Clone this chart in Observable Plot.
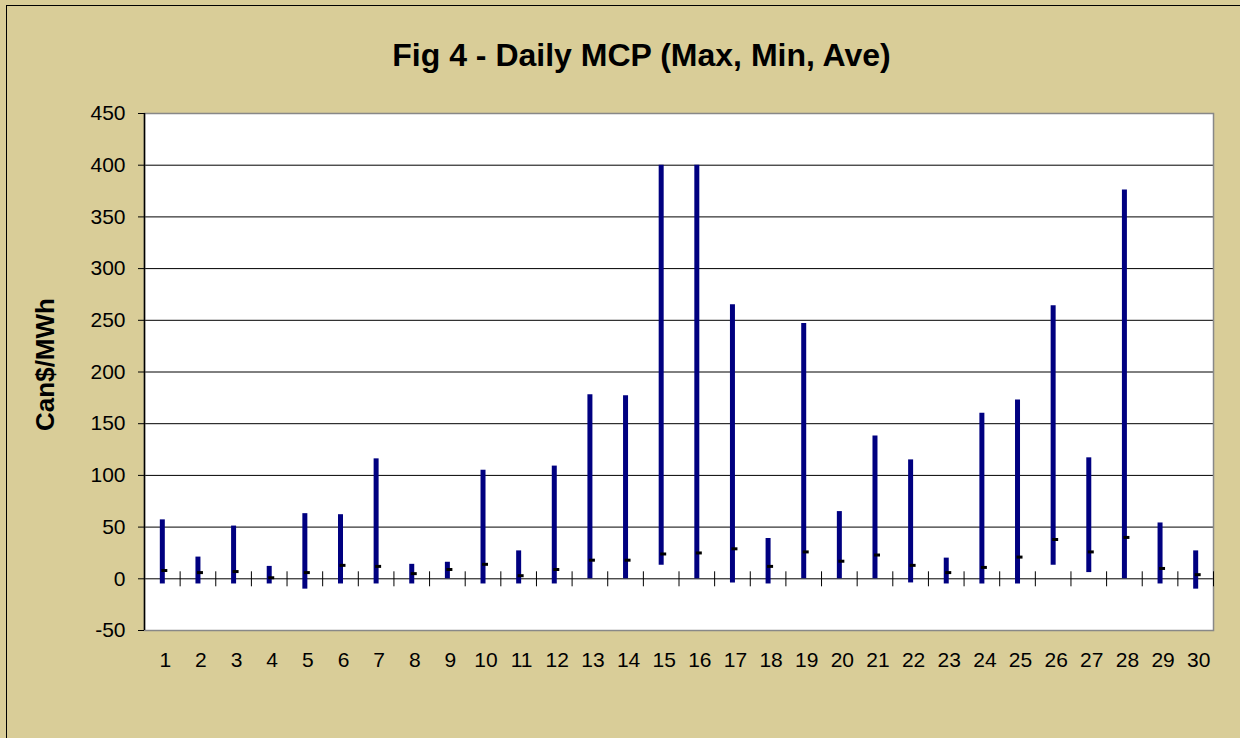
<!DOCTYPE html>
<html><head><meta charset="utf-8">
<script src="https://cdn.jsdelivr.net/npm/d3@7"></script>
<script src="https://cdn.jsdelivr.net/npm/@observablehq/plot@0.6"></script>
<style>
html,body{margin:0;padding:0;background:#D9CD98;overflow:hidden}
#wrap{position:relative;width:1240px;height:738px;background:#D9CD98;overflow:hidden}
#border{position:absolute;left:6px;top:5px;width:1300px;height:800px;border-left:1px solid #000;border-top:1px solid #000;box-sizing:border-box}
#chart{position:absolute;left:0;top:0}
</style></head><body>
<div id="wrap"><div id="border"></div><div id="chart"></div></div>
<script>
const days = d3.range(1, 31);
const maxValues = [57, 21, 51, 12, 63, 62, 116, 14, 16, 105, 27, 109, 178, 177, 400, 400, 265, 39, 247, 65, 138, 115, 20, 160, 173, 264, 117, 376, 54, 27];
const minValues = [-5, -5, -5, -5, -10, -5, -5, -5, 0, -5, -5, -5, 0, 0, 13, 0, -4, -5, 0, 0, 0, -4, -5, -5, -5, 13, 6, 0, -5, -10];
const aveValues = [8, 6, 7, 1, 6, 13, 12, 5, 9, 14, 3, 9, 18, 18, 24, 25, 29, 12, 26, 17, 23, 13, 6, 11, 21, 38, 26, 40, 10, 4];
const yTicks = [-50, 0, 50, 100, 150, 200, 250, 300, 350, 400, 450];
const gridValues = [0, 50, 100, 150, 200, 250, 300, 350, 400];
const boundaries = d3.range(0.5, 31, 1);
const titleText = "Fig 4 - Daily MCP (Max, Min, Ave)";
const yLabel = "Can$/MWh";

const data = days.map((d, i) => ({day: d, max: maxValues[i], min: minValues[i], ave: aveValues[i]}));

const chart = Plot.plot({
  width: 1240, height: 738,
  marginLeft: 144, marginRight: 27, marginTop: 113, marginBottom: 108,
  style: {background: "transparent", fontFamily: "Arial, 'Liberation Sans', sans-serif", fontSize: "21px", color: "black", overflow: "visible"},
  x: {domain: [0.5, 30.5]},
  y: {domain: [-50, 450]},
  marks: [
    Plot.frame({fill: "white"}),
    Plot.ruleY(gridValues, {stroke: "black", strokeWidth: 1}),
    Plot.frame({stroke: "#888", strokeWidth: 1.5}),
    Plot.ruleX([0.5], {stroke: "black", strokeWidth: 1.5}),
    Plot.ruleX(boundaries, {x: d => d, y1: 0, y2: 0, insetTop: -7, insetBottom: -8, stroke: "black"}),
    Plot.axisY(yTicks, {tickSize: 6, tickPadding: 13, tickFormat: d => String(d), stroke: "black", label: null, fontSize: 21}),
    Plot.axisX(days, {tickSize: 0, tickPadding: 22, label: null, dx: 3, fontSize: 21}),
    Plot.ruleX(data, {x: "day", y1: "min", y2: "max", stroke: "#000080", strokeWidth: 5}),
    Plot.ruleY(data, {y: "ave", x1: "day", x2: "day", insetLeft: -3, insetRight: -3, dx: 2.5, stroke: "black", strokeWidth: 3}),
    Plot.text([titleText], {frameAnchor: "top", lineAnchor: "middle", textAnchor: "middle", dx: -37.5, dy: -58, fontSize: 32, fontWeight: "bold", text: d => d, fill: "black"}),
    Plot.text([yLabel], {frameAnchor: "left", lineAnchor: "middle", textAnchor: "middle", rotate: -90, dx: -99, dy: -7.5, fontSize: 26, fontWeight: "bold", text: d => d, fill: "black"})
  ]
});
document.getElementById("chart").appendChild(chart);
</script>
</body></html>
